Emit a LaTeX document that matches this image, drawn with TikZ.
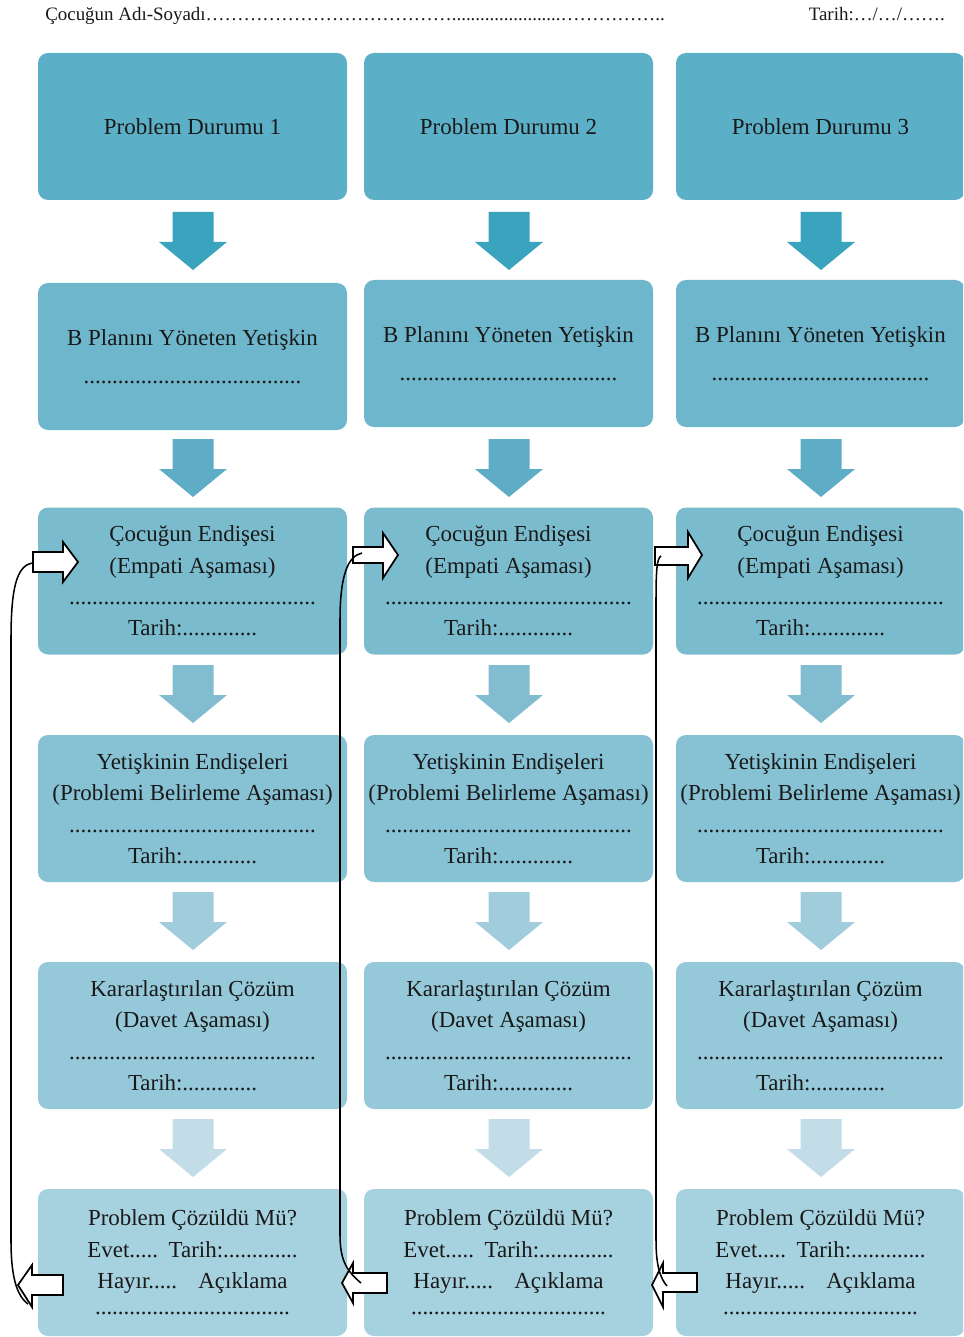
\documentclass[tikz,border=0pt]{standalone}
\usepackage{fontspec}
\setmainfont{Liberation Serif}
\definecolor{boxA}{RGB}{91,176,200}
\definecolor{boxB}{RGB}{109,182,204}
\definecolor{boxC}{RGB}{122,188,206}
\definecolor{boxD}{RGB}{134,194,212}
\definecolor{boxE}{RGB}{149,201,217}
\definecolor{boxF}{RGB}{166,209,223}
\definecolor{arrA}{RGB}{58,163,190}
\definecolor{arrB}{RGB}{95,172,198}
\definecolor{arrC}{RGB}{130,188,208}
\definecolor{arrD}{RGB}{161,204,219}
\definecolor{arrE}{RGB}{194,221,232}
\definecolor{ink}{RGB}{25,25,25}
\tikzset{
  box/.style={rectangle, rounded corners=7.5pt, minimum height=110.25pt, inner sep=0pt,
    align=center, text=ink, font=\fontsize{17.2}{23.6}\selectfont},
  wideb/.style={box, minimum width=231.75pt},
  narrowb/.style={box, minimum width=216.75pt},
  hollow/.style={draw=black, fill=white, line width=1.3pt, line join=miter},
  loopline/.style={draw=black, line width=1.15pt},
  hdr/.style={inner sep=0pt, text=ink, font=\fontsize{14.2}{16}\selectfont}
}
\newcommand\DArr[3]{%
  \fill[#3] (#1-20.5,#2) -- (#1+20.5,#2) -- (#1+20.5,#2+30) -- (#1+34,#2+30)
    -- (#1,#2+58) -- (#1-34,#2+30) -- (#1-20.5,#2+30) -- cycle;}
\begin{document}
\begin{tikzpicture}[x=0.75pt,y=-0.75pt]
\clip (0,0) rectangle (963,1337);
\fill[white] (0,0) rectangle (963,1337);

% header
\node[hdr, anchor=base west] (name) at (45,21) {Çocuğun Adı-Soyadı………………………………….......................……………..};
\node[hdr, anchor=base east] (date) at (945,21) {Tarih:…/…/…….};

% ---------- column 1 ----------
\node[wideb, fill=boxA] (p1) at (192.5,126.5) {Problem Durumu 1};
\node[wideb, fill=boxB] (b1) at (192.5,356.5) {B Planını Yöneten Yetişkin\\[5pt]......................................};
\node[wideb, fill=boxC] (c1) at (192.5,581) {Çocuğun Endişesi\\(Empati Aşaması)\\...........................................\\Tarih:.............};
\node[wideb, fill=boxD] (y1) at (192.5,808.5) {Yetişkinin Endişeleri\\(Problemi Belirleme Aşaması)\\...........................................\\Tarih:.............};
\node[wideb, fill=boxE] (k1) at (192.5,1035.5) {Kararlaştırılan Çözüm\\(Davet Aşaması)\\...........................................\\Tarih:.............};
\node[wideb, fill=boxF] (s1) at (192.5,1262.5) {Problem Çözüldü Mü?\\Evet.....\hspace{8pt}Tarih:.............\\Hayır.....\hspace{16pt}Açıklama\\[-4pt]..................................};

% ---------- column 2 ----------
\node[narrowb, fill=boxA] (p2) at (508.5,126.5) {Problem Durumu 2};
\node[narrowb, fill=boxB] (b2) at (508.5,353.5) {B Planını Yöneten Yetişkin\\[5pt]......................................};
\node[narrowb, fill=boxC] (c2) at (508.5,581) {Çocuğun Endişesi\\(Empati Aşaması)\\...........................................\\Tarih:.............};
\node[narrowb, fill=boxD] (y2) at (508.5,808.5) {Yetişkinin Endişeleri\\(Problemi Belirleme Aşaması)\\...........................................\\Tarih:.............};
\node[narrowb, fill=boxE] (k2) at (508.5,1035.5) {Kararlaştırılan Çözüm\\(Davet Aşaması)\\...........................................\\Tarih:.............};
\node[narrowb, fill=boxF] (s2) at (508.5,1262.5) {Problem Çözüldü Mü?\\Evet.....\hspace{8pt}Tarih:.............\\Hayır.....\hspace{16pt}Açıklama\\[-4pt]..................................};

% ---------- column 3 ----------
\node[narrowb, fill=boxA] (p3) at (820.5,126.5) {Problem Durumu 3};
\node[narrowb, fill=boxB] (b3) at (820.5,353.5) {B Planını Yöneten Yetişkin\\[5pt]......................................};
\node[narrowb, fill=boxC] (c3) at (820.5,581) {Çocuğun Endişesi\\(Empati Aşaması)\\...........................................\\Tarih:.............};
\node[narrowb, fill=boxD] (y3) at (820.5,808.5) {Yetişkinin Endişeleri\\(Problemi Belirleme Aşaması)\\...........................................\\Tarih:.............};
\node[narrowb, fill=boxE] (k3) at (820.5,1035.5) {Kararlaştırılan Çözüm\\(Davet Aşaması)\\...........................................\\Tarih:.............};
\node[narrowb, fill=boxF] (s3) at (820.5,1262.5) {Problem Çözüldü Mü?\\Evet.....\hspace{8pt}Tarih:.............\\Hayır.....\hspace{16pt}Açıklama\\[-4pt]..................................};

% ---------- down block arrows ----------
\foreach \cx in {193,509,821}{
  \DArr{\cx}{212}{arrA}
  \DArr{\cx}{439}{arrB}
  \DArr{\cx}{665}{arrC}
  \DArr{\cx}{892}{arrD}
  \DArr{\cx}{1119}{arrE}
}

% ---------- hollow arrows ----------
\draw[hollow] (33,552) -- (63,552) -- (63,542) -- (78,562) -- (63,582) -- (63,572) -- (33,572) -- cycle;
\draw[hollow] (353,547) -- (383,547) -- (383,533) -- (398,555) -- (383,578) -- (383,563) -- (353,563) -- cycle;
\draw[hollow] (655,547) -- (688,547) -- (688,532) -- (702,555) -- (688,578) -- (688,565) -- (655,565) -- cycle;
\draw[hollow] (63,1275) -- (32,1275) -- (32,1265) -- (18,1285) -- (32,1307) -- (32,1295) -- (63,1295) -- cycle;
\draw[hollow] (387,1273) -- (353,1273) -- (353,1263) -- (342,1283) -- (353,1303) -- (353,1293) -- (387,1293) -- cycle;
\draw[hollow] (697,1273) -- (663,1273) -- (663,1263) -- (652,1285) -- (663,1307) -- (663,1292) -- (697,1292) -- cycle;

% ---------- loop-back connectors ----------
\coordinate (t1) at (33,563);   \coordinate (e1) at (28,1304);
\coordinate (t2) at (362,553);  \coordinate (e2) at (361,1283);
\coordinate (t3) at (661,556);  \coordinate (e3) at (667,1286);
\draw[loopline] (e1) .. controls (16,1295) and (11,1275) .. (11,1240) -- (11,640) .. controls (11,590) and (16,565) .. (t1);
\draw[loopline] (e2) .. controls (348,1272) and (340,1262) .. (340,1235) -- (340,620) .. controls (340,575) and (348,556) .. (t2);
\draw[loopline] (e3) .. controls (660,1278) and (656,1265) .. (656,1240) -- (656,600) .. controls (656,570) and (657,558) .. (t3);
\end{tikzpicture}
\end{document}
